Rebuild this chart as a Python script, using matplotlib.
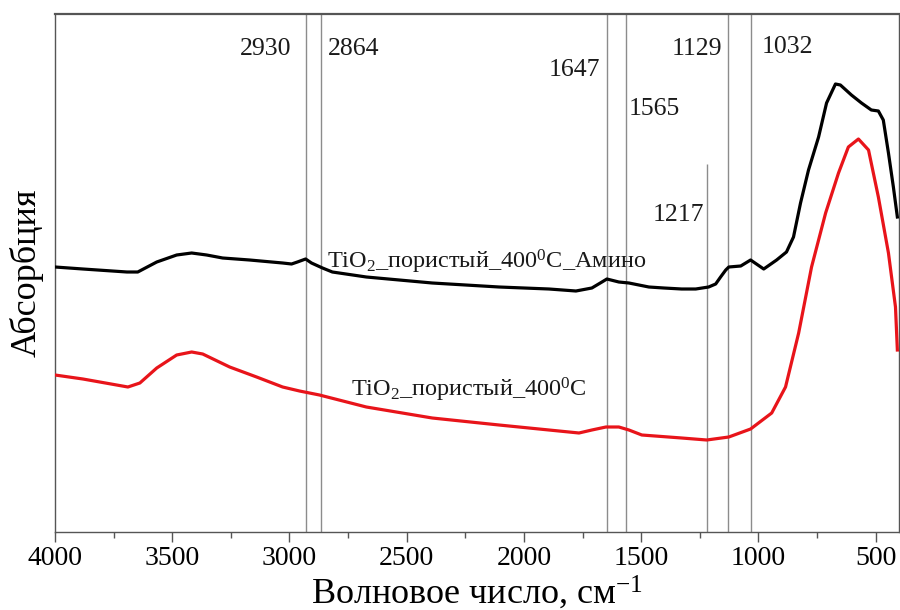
import matplotlib
matplotlib.use("Agg")
import matplotlib.pyplot as plt
from matplotlib.ticker import MultipleLocator

plt.rcParams['font.family'] = ['Liberation Serif', 'DejaVu Serif']
plt.rcParams['mathtext.fontset'] = 'custom'
plt.rcParams['mathtext.rm'] = 'Liberation Serif'
plt.rcParams['mathtext.it'] = 'Liberation Serif:italic'

# Wavenumbers (cm-1) and absorbance (a.u.) — TiO2 porous 400C Amino (black)
wn_amino = [4000, 3881, 3693, 3647, 3566, 3481, 3417, 3353, 3285, 3170, 3029, 2991, 2966,
            2931, 2906, 2859, 2817, 2672, 2391, 2106, 1893, 1778, 1710, 1667, 1646, 1595,
            1552, 1467, 1403, 1327, 1267, 1212, 1182, 1161, 1139, 1126, 1075, 1033, 977,
            922, 880, 850, 820, 786, 743, 709, 671, 650, 603, 560, 518, 488, 467, 445, 424, 407]
abs_amino = [2.65, 2.63, 2.60, 2.60, 2.70, 2.77, 2.79, 2.77, 2.74, 2.72, 2.69, 2.68, 2.70,
             2.73, 2.69, 2.64, 2.60, 2.55, 2.49, 2.45, 2.43, 2.41, 2.44, 2.50, 2.53, 2.50,
             2.49, 2.45, 2.44, 2.43, 2.43, 2.45, 2.48, 2.55, 2.62, 2.65, 2.66, 2.72, 2.63,
             2.72, 2.80, 2.95, 3.29, 3.62, 3.95, 4.29, 4.48, 4.47, 4.37, 4.29, 4.22, 4.21,
             4.12, 3.79, 3.45, 3.15]

# TiO2 porous 400C (red)
wn_plain = [4000, 3881, 3689, 3638, 3566, 3481, 3417, 3370, 3255, 3140, 3029, 2957, 2872,
            2672, 2391, 2106, 1893, 1765, 1710, 1650, 1595, 1552, 1497, 1327, 1220, 1126,
            1033, 943, 884, 828, 773, 713, 658, 616, 573, 530, 488, 445, 415, 407]
abs_plain = [1.57, 1.53, 1.45, 1.49, 1.64, 1.77, 1.80, 1.78, 1.65, 1.55, 1.45, 1.41, 1.37,
             1.25, 1.14, 1.07, 1.02, 0.99, 1.02, 1.05, 1.05, 1.02, 0.97, 0.94, 0.92, 0.95,
             1.03, 1.19, 1.45, 1.99, 2.65, 3.19, 3.59, 3.85, 3.93, 3.82, 3.35, 2.79, 2.25,
             1.82]

# Band markers
band_wn = [2930, 2864, 1647, 1565, 1217, 1129, 1032]
band_labels = ['2930', '2864', '1647', '1565', '1217', '1129', '1032']
band_top = [None, None, None, None, 3.68, None, None]
label_x = [2991, 2838, 1676, 1552, 1229, 1156, 986]
label_y = [4.77, 4.77, 4.56, 4.17, 3.11, 4.77, 4.79]
label_ha = ['right', 'left', 'right', 'left', 'right', 'right', 'left']

xticks = [4000, 3500, 3000, 2500, 2000, 1500, 1000, 500]

fig = plt.figure(figsize=(9, 6.1), dpi=100)
ax = fig.add_axes([55/900, 1 - 532/610, 844/900, 518/610])

for w, top in zip(band_wn, band_top):
    if top is None:
        ax.axvline(w, color='#8c8c8c', lw=1.0, zorder=1)
    else:
        ax.vlines(w, 0, top, color='#8c8c8c', lw=1.0, zorder=1)

ax.plot(wn_amino, abs_amino, color='black', lw=2.3, solid_joinstyle='round', zorder=3)
ax.plot(wn_plain, abs_plain, color='#e8141a', lw=2.3, solid_joinstyle='round', zorder=3)

for t, x, y, ha in zip(band_labels, label_x, label_y, label_ha):
    ax.text(x, y, t, ha=ha, va='baseline', fontsize=18.5, color='#1a1a1a')

ax.text(2838, 2.64, r'TiO$_{\mathrm{2}}$_пористый_400$^{\mathrm{0}}$C_Амино',
        ha='left', va='baseline', fontsize=17.5, color='#1a1a1a')
ax.text(2736, 1.35, r'TiO$_{\mathrm{2}}$_пористый_400$^{\mathrm{0}}$C',
        ha='left', va='baseline', fontsize=17.5, color='#1a1a1a')

ax.set_xlim(4000, 400)
ax.set_ylim(0, 5.18)
ax.set_xticks(xticks)
ax.set_xticklabels([str(v) for v in xticks])
ax.xaxis.set_minor_locator(MultipleLocator(250))
ax.set_yticks([])
ax.tick_params(axis='x', which='major', direction='out', length=7, width=1,
               color='#555555', labelsize=20, pad=3)
ax.tick_params(axis='x', which='minor', direction='out', length=4, width=1, color='#555555')
for s in ax.spines.values():
    s.set_color('#555555')
    s.set_linewidth(1.0)
ax.spines['top'].set_linewidth(1.6)

ax.set_xlabel('Волновое число, см$^{\\mathrm{-1}}$', fontsize=26, labelpad=2)
ax.set_ylabel('Абсорбция', fontsize=26, labelpad=8)

fig.savefig('out.png', dpi=100)
